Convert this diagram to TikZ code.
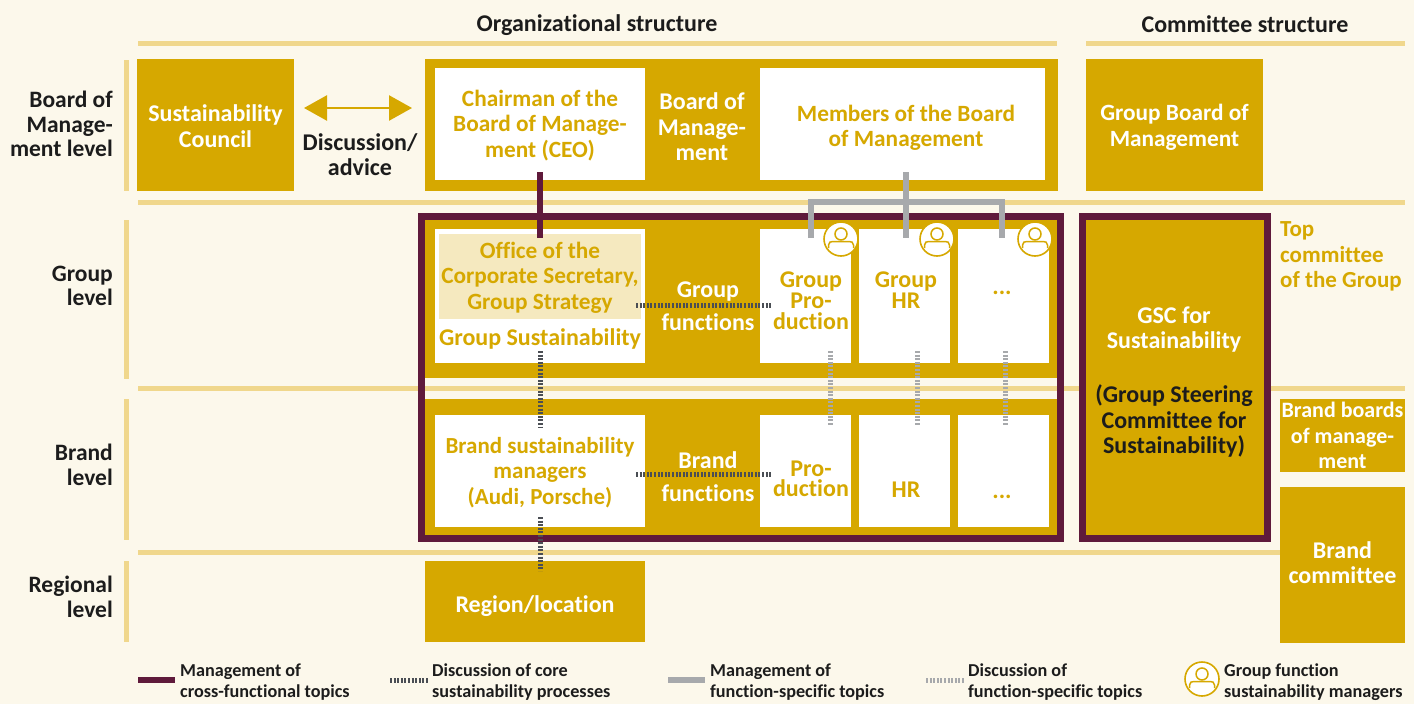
\documentclass[tikz,border=0pt]{standalone}
\usepackage{fontspec}
\setmainfont[Ligatures=NoCommon]{Carlito}
\usetikzlibrary{arrows.meta, calc}
\definecolor{cream}{RGB}{252, 248, 235}
\definecolor{gold}{RGB}{214, 168, 0}
\definecolor{palegold}{RGB}{245, 233, 191}
\definecolor{rulegold}{RGB}{240, 215, 140}
\definecolor{wine}{RGB}{95, 26, 59}
\definecolor{steel}{RGB}{167, 169, 172}
\definecolor{darkdash}{RGB}{74, 78, 84}
\definecolor{ink}{RGB}{28, 28, 28}
\tikzset{
    x=1pt, y=-1pt,
    box/.style={fill=#1, inner sep=0pt, outer sep=0pt},
    txt/.style={text=#1, inner sep=0pt, align=center, font=\fontsize{24}{25.5}\selectfont\bfseries},
    txtsm/.style={text=#1, inner sep=0pt, align=center, font=\fontsize{23.3}{25.5}\selectfont\bfseries},
    lvl/.style={text=ink, inner sep=0pt, align=right, anchor=east, font=\fontsize{23.5}{24.5}\selectfont\bfseries},
    head/.style={text=ink, inner sep=0pt, font=\fontsize{24}{25}\selectfont\bfseries},
    lgd/.style={text=ink, inner sep=0pt, align=left, anchor=west, font=\fontsize{18.2}{20.5}\selectfont\bfseries},
    rulebar/.style={rulegold, line width=5pt},
    frame/.style={draw=wine, line width=7pt, inner sep=0pt},
    crossline/.style={wine, line width=5.5pt},
    coreline/.style={darkdash, line width=5pt, dash pattern=on 2pt off 1.6pt},
    funcline/.style={steel, line width=5.5pt},
    funcdots/.style={steel, line width=5pt, dash pattern=on 2pt off 1.6pt},
    usericon/.pic={
        \draw[gold, fill=white, line width=1.6pt] (0,0) circle (17);
        \draw[gold, line width=1.5pt] (0,-5) circle (6);
        \draw[gold, line width=1.5pt] (-12.5,9) -- (-12.5,6) .. controls (-12.5,3) and (-10,2.5) .. (-8,2.5) -- (8,2.5) .. controls (10,2.5) and (12.5,3) .. (12.5,6) -- (12.5,9);
    }
}
\begin{document}
\begin{tikzpicture}
    \useasboundingbox (0,0) rectangle (1424,704);
    \fill[cream] (0,0) rectangle (1414,704);

    % Headers and rules
    \node[head] (orgtitle) at (597,25) {Organizational structure};
    \node[head] (comtitle) at (1245,24) {Committee structure};
    \draw[rulebar] (138,43) -- (1057,43);
    \draw[rulebar] (1086,43) -- (1405,43);
    \draw[rulebar] (138,202) -- (1405,202);
    \draw[rulebar] (138,388) -- (1405,388);
    \draw[rulebar] (138,552) -- (1280,552);
    \draw[rulebar] (126,60) -- (126,191);
    \draw[rulebar] (126,220) -- (126,379);
    \draw[rulebar] (126,399) -- (126,540);
    \draw[rulebar] (126,561) -- (126,642);

    % Level labels
    \node[lvl] (lvlboard) at (113,124) {Board of\\Manage-\\ment level};
    \node[lvl] (lvlgroup) at (113,286) {Group\\level};
    \node[lvl] (lvlbrand) at (113,465) {Brand\\level};
    \node[lvl] (lvlregion) at (113,597) {Regional\\level};

    % Board row
    \node[box=gold, minimum width=157pt, minimum height=132pt] (council) at (215.5,125) {};
    \node[txt=white] (councillbl) at (215.5,126) {Sustainability\\Council};
    \node[txt=ink] (advice) at (360,154.5) {Discussion/\\advice};
    \coordinate (advleft) at (304,108);
    \coordinate (advright) at (412,108);
    \draw[gold, line width=2.5pt, {Triangle[length=23pt,width=25pt]}-{Triangle[length=23pt,width=25pt]}] (advleft) -- (advright);
    \node[box=gold, minimum width=633pt, minimum height=132pt] (boardbg) at (741.5,125) {};
    \node[box=white, minimum width=210pt, minimum height=112pt] (chair) at (540,124) {};
    \node[txtsm=gold] (chairlbl) at (540,125.5) {Chairman of the\\Board of Manage-\\ment (CEO)};
    \node[txt=white] (boardlbl) at (702,127) {Board of\\Manage-\\ment};
    \node[box=white, minimum width=285pt, minimum height=112pt] (members) at (902.5,124) {};
    \node[txtsm=gold] (memberslbl) at (906,128) {Members of the Board\\of Management};
    \node[box=gold, minimum width=177pt, minimum height=132pt] (gbm) at (1174.5,125) {};
    \node[txtsm=white] (gbmlbl) at (1174.5,127.5) {Group Board of\\Management};

    % Group and brand rows inside the frame
    \node[box=gold, minimum width=633pt, minimum height=159pt] (groupbg) at (741.5,298.5) {};
    \node[box=gold, minimum width=633pt, minimum height=136pt] (brandbg) at (741.5,467) {};
    \node[frame, minimum width=639pt, minimum height=322pt] (orgframe) at (741,377.5) {};

    \node[box=white, minimum width=210pt, minimum height=134pt] (office) at (540,296) {};
    \node[box=palegold, minimum width=202pt, minimum height=85pt] (secretary) at (540,276.5) {};
    \node[txtsm=gold] (secretarylbl) at (540,277.5) {Office of the\\Corporate Secretary,\\Group Strategy};
    \node[txt=gold] (groupsus) at (540,339) {Group Sustainability};
    \node[txt=white] (groupfn) at (708,306) {Group\\[8pt]functions};
    \node[box=white, minimum width=91pt, minimum height=134pt] (gprod) at (805.5,296) {};
    \node[box=white, minimum width=91pt, minimum height=134pt] (ghr) at (904.5,296) {};
    \node[box=white, minimum width=91pt, minimum height=134pt] (gmore) at (1003.5,296) {};
    \node[txt=gold, font=\fontsize{24}{21}\selectfont\bfseries] (gprodlbl) at (811,301) {Group\\Pro-\\duction};
    \node[txt=gold, font=\fontsize{24}{21}\selectfont\bfseries] (ghrlbl) at (906,290.5) {Group\\HR};
    \node[txt=gold] (gmorelbl) at (1002,293) {...};

    \node[box=white, minimum width=210pt, minimum height=112pt] (brandsus) at (540,471) {};
    \node[txtsm=gold, font=\fontsize{23}{25.5}\selectfont\bfseries] (brandsuslbl) at (540,472.5) {Brand sustainability\\managers\\(Audi, Porsche)};
    \node[txt=white] (brandfn) at (708,476.5) {Brand\\[8pt]functions};
    \node[box=white, minimum width=91pt, minimum height=112pt] (bprod) at (805.5,471) {};
    \node[box=white, minimum width=91pt, minimum height=112pt] (bhr) at (904.5,471) {};
    \node[box=white, minimum width=91pt, minimum height=112pt] (bmore) at (1003.5,471) {};
    \node[txt=gold, font=\fontsize{24}{20}\selectfont\bfseries] (bprodlbl) at (811,478.5) {Pro-\\duction};
    \node[txt=gold] (bhrlbl) at (906,490) {HR};
    \node[txt=gold] (bmorelbl) at (1002,497) {...};

    \node[box=gold, minimum width=220pt, minimum height=81pt] (region) at (535,601.5) {};
    \node[txt=white] (regionlbl) at (535,606) {Region/location};

    % Committee column
    \node[box=gold, minimum width=185pt, minimum height=322pt, frame] (gsc) at (1174.5,377.5) {};
    \node[txt=white] (gsclbl) at (1174,329.5) {GSC for\\Sustainability};
    \node[txt=ink] (gscsub) at (1174,421) {(Group Steering\\Committee for\\Sustainability)};
    \node[txtsm=gold, font=\fontsize{23}{25.5}\selectfont\bfseries, align=left, anchor=west] (topcom) at (1280,256.5) {Top\\committee\\of the Group};
    \node[box=gold, minimum width=125pt, minimum height=73pt] (brandboards) at (1342.5,435.5) {};
    \node[txt=white, font=\fontsize{22}{25.5}\selectfont\bfseries] (brandboardslbl) at (1342.5,435.5) {Brand boards\\of manage-\\ment};
    \node[box=gold, minimum width=125pt, minimum height=156pt] (brandcom) at (1342.5,565) {};
    \node[txt=white] (brandcomlbl) at (1342.5,562.5) {Brand\\committee};

    % Connectors
    \draw[crossline] ([yshift=8pt]chair.south) -- ([yshift=-9pt]office.north);
    \coordinate (forkleft) at (811,202);
    \coordinate (forkright) at (1002,202);
    \coordinate (gprodtop) at (811,238);
    \coordinate (ghrtop) at (906,238);
    \coordinate (gmoretop) at (1002,238);
    \draw[funcline] (906,172) -- (ghrtop);
    \draw[funcline] (gprodtop) -- (forkleft) -- (forkright) -- (gmoretop);
    \draw[coreline] (636,305) -- (772,305);
    \draw[coreline] (636,474) -- (772,474);
    \draw[coreline] ([yshift=12pt]office.south) -- ([yshift=-12pt]brandsus.north);
    \draw[coreline] ([yshift=10pt]brandsus.south) -- ([yshift=-10pt]region.north -| brandsus.south);
    \foreach \xa in {830,917,1005}{
        \draw[funcdots] (\xa,351) -- (\xa,425);
    }

    % Manager icons
    \pic at (841,239) {usericon};
    \pic at (937,239) {usericon};
    \pic at (1035,239) {usericon};

    % Legend
    \node[lgd] (lgdcross) at (180,682) {Management of\\cross-functional topics};
    \node[lgd] (lgdcore) at (432,682) {Discussion of core\\sustainability processes};
    \node[lgd] (lgdfunc) at (710,682) {Management of\\function-specific topics};
    \node[lgd] (lgddots) at (968,682) {Discussion of\\function-specific topics};
    \node[lgd] (lgdicon) at (1224,682) {Group function\\sustainability managers};
    \draw[crossline] ([xshift=-42pt,yshift=2pt]lgdcross.west) -- ([xshift=-5pt,yshift=2pt]lgdcross.west);
    \draw[coreline] ([xshift=-42pt,yshift=2pt]lgdcore.west) -- ([xshift=-4pt,yshift=2pt]lgdcore.west);
    \draw[funcline] ([xshift=-42pt,yshift=2pt]lgdfunc.west) -- ([xshift=-5pt,yshift=2pt]lgdfunc.west);
    \draw[funcdots] ([xshift=-42pt,yshift=2pt]lgddots.west) -- ([xshift=-4pt,yshift=2pt]lgddots.west);
    \pic at (1202,679) {usericon};
\end{tikzpicture}
\end{document}
